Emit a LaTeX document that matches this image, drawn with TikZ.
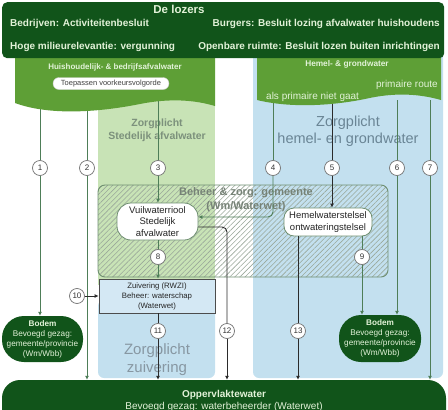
\documentclass[tikz,border=0pt]{standalone}
\usepackage{fontspec}
\setmainfont{Liberation Sans}
\usetikzlibrary{arrows.meta,patterns.meta,calc}
\definecolor{dkgreen}{HTML}{11541A}
\definecolor{midgreen}{HTML}{5E9F36}
\definecolor{ltgreen}{HTML}{C8E3B6}
\definecolor{ltblue}{HTML}{C3E0EF}
\definecolor{boxblue}{HTML}{D4E8F4}
\definecolor{paletext}{HTML}{E2F2D8}
\definecolor{glinec}{HTML}{4E7E58}
\definecolor{dlinec}{HTML}{2B2B2B}
\definecolor{zgreen}{HTML}{7C917C}
\definecolor{zblue}{HTML}{6A8595}
\definecolor{zgray}{HTML}{8797A2}
\definecolor{hatchc}{HTML}{9AA89A}
\definecolor{hatchborder}{HTML}{6E8E70}
\definecolor{beheerc}{HTML}{768276}
\begin{document}
\begin{tikzpicture}[x=1pt,y=-1pt,
  num/.style={circle,draw=black!55,fill=white,line width=0.7pt,minimum size=15pt,inner sep=0pt,font=\fontsize{8}{8}\selectfont,text=black!80},
  gline/.style={draw=glinec,line width=0.9pt},
  dline/.style={draw=dlinec,line width=0.9pt},
  arr/.style={-{Latex[length=4pt,width=4pt]}},
  darkbox/.style={fill=dkgreen,text=paletext,align=center,inner sep=2pt,font=\fontsize{8.2}{10}\selectfont},
  whitebox/.style={fill=white,draw=hatchborder,line width=0.8pt,align=center,inner sep=1pt,font=\fontsize{9.5}{11.5}\selectfont,text=black!85},
  toptext/.style={text=paletext,font=\bfseries\fontsize{10}{12}\selectfont,inner sep=0pt},
  lightlabel/.style={text=paletext,inner sep=0pt}
]
\useasboundingbox (0,0) rectangle (448,410);
\clip (0,0) rectangle (448,410);

% background regions
\fill[ltblue,rounded corners=6pt] (253,45) rectangle (443,378);
\fill[ltgreen] (98,95) rectangle (215,285);
\fill[ltblue,rounded corners=6pt] (98,300) rectangle (215,378);

% zorgplicht texts
\node[font=\bfseries\fontsize{10.5}{13}\selectfont,text=zgreen,align=center] (zp1) at (157,130) {Zorgplicht\\Stedelijk afvalwater};
\node[font=\fontsize{14.5}{17}\selectfont,text=zblue,align=center] (zp2) at (348,131) {Zorgplicht\\hemel- en grondwater};
\node[font=\fontsize{15}{18}\selectfont,text=zgray,align=center] (zp3) at (157,360) {Zorgplicht\\zuivering};

% hatched management box
\path[pattern={Lines[angle=45,distance=3.6pt,line width=0.6pt]},pattern color=hatchc] (98,185) [rounded corners=7pt] rectangle (388,277);
\draw[hatchborder,line width=0.9pt,rounded corners=7pt] (98,185) rectangle (388,277);
\node[font=\bfseries\fontsize{11}{14}\selectfont,text=beheerc,align=center] (beheer) at (246,200) {Beheer \& zorg: gemeente\\(Wm/Waterwet)};

% process nodes
\node[whitebox,rounded corners=14pt,minimum width=81pt,minimum height=37pt] (vuil) at (157.5,221.5) {Vuilwaterriool\\Stedelijk\\afvalwater};
\node[whitebox,rounded corners=10pt,minimum width=88pt,minimum height=28pt] (hemel) at (328,222) {Hemelwaterstelsel\\ontwateringstelsel};
\node[fill=boxblue,draw=black!70,line width=0.8pt,align=center,minimum width=116pt,minimum height=34pt,inner sep=1pt,font=\fontsize{7.8}{10}\selectfont,text=black!85] (zuiv) at (157,296) {Zuivering (RWZI)\\Beheer: waterschap\\(Waterwet)};
\node[darkbox,rounded corners=22pt,minimum width=81pt,minimum height=46pt] (bodemL) at (42.5,339) {\textbf{Bodem}\\Bevoegd gezag:\\gemeente/provincie\\(Wm/Wbb)};
\node[darkbox,rounded corners=22pt,minimum width=82pt,minimum height=47pt] (bodemR) at (380,338.5) {\textbf{Bodem}\\Bevoegd gezag:\\gemeente/provincie\\(Wm/Wbb)};
\node[fill=dkgreen,rounded corners=18pt,minimum width=444pt,minimum height=62pt,inner sep=0pt] (opp) at (224,411) {};
\node[text=paletext,align=center,font=\fontsize{10}{11.5}\selectfont] (opptext) at (224,401) {\textbf{Oppervlaktewater}\\Bevoegd gezag: waterbeheerder (Waterwet)};

% numbered circles
\node[num] (c1) at (40,168) {1};
\node[num] (c2) at (87,168) {2};
\node[num] (c3) at (158,168) {3};
\node[num] (c4) at (273,168) {4};
\node[num] (c5) at (332,168) {5};
\node[num] (c6) at (397,168) {6};
\node[num] (c7) at (430,168) {7};
\node[num] (c8) at (158,257) {8};
\node[num] (c9) at (362,257) {9};
\node[num] (c10) at (77,296) {10};
\node[num] (c11) at (158,331) {11};
\node[num] (c12) at (227,331) {12};
\node[num] (c13) at (298,331) {13};

% start points below the lozer shapes
\coordinate (s1) at (40,100);
\coordinate (s2) at (87,100);
\coordinate (s3) at (158,100);
\coordinate (s4) at (273,100);
\coordinate (s5) at (332,100);
\coordinate (s6) at (397,100);
\coordinate (s7) at (430,100);

% connectors
\draw[gline] (s1) -- (c1);
\draw[gline,arr] (c1) -- (c1 |- bodemL.north);
\draw[gline] (s2) -- (c2);
\draw[gline,arr] (c2) -- (c2 |- opp.north);
\draw[gline] (s3) -- (c3);
\draw[gline,arr] (c3) -- (c3 |- vuil.north);
\draw[gline] (s4) -- (c4);
\draw[gline,arr,rounded corners=5pt] (c4) |- ($(vuil.east)+(0,-4.5)$);
\draw[dline] (s5) -- (c5);
\draw[dline,arr] (c5) -- (c5 |- hemel.north);
\draw[gline] (s6) -- (c6);
\draw[gline,arr] (c6) -- (c6 |- bodemR.north);
\draw[gline] (s7) -- (c7);
\draw[gline,arr] (c7) -- (c7 |- opp.north);
\draw[gline] (vuil.south -| c8) -- (c8);
\draw[gline,arr] (c8) -- (c8 |- zuiv.north);
\draw[gline] (hemel.south -| c9) -- (c9);
\draw[gline,arr] (c9) -- (c9 |- bodemR.north);
\draw[dline,arr] (c10) -- (zuiv.west);
\draw[dline] (zuiv.south -| c11) -- (c11);
\draw[dline,arr] (c11) -- (c11 |- opp.north);
\draw[dline,rounded corners=5pt] ($(vuil.east)+(0,5.5)$) -| (c12);
\draw[dline,arr] (c12) -- (c12 |- opp.north);
\draw[dline] (hemel.south -| c13) -- (c13);
\draw[dline,arr] (c13) -- (c13 |- opp.north);

% lozer shapes
\fill[midgreen] (15,40) -- (215,40) -- (215,106) .. controls (195,100) and (170,98) .. (140,104) .. controls (100,112) and (50,116) .. (15,103) -- cycle;
\fill[midgreen] (257,40) -- (441,40) -- (441,100) .. controls (420,94) and (395,92) .. (365,99) .. controls (330,106) and (290,108) .. (257,100) -- cycle;
\node[lightlabel,font=\bfseries\fontsize{8}{9}\selectfont] (huish) at (115,67) {Huishoudelijk- \& bedrijfsafvalwater};
\node[fill=white,draw=black!20,rounded corners=6pt,font=\fontsize{7.5}{8}\selectfont,text=black!75,minimum width=116pt,minimum height=12pt,inner sep=1pt] (toep) at (111,83.5) {Toepassen voorkeursvolgorde};
\node[lightlabel,font=\bfseries\fontsize{8.3}{9}\selectfont] (hemelgw) at (347,64) {Hemel- \& grondwater};
\node[lightlabel,font=\fontsize{10}{11}\selectfont,anchor=east] (prim) at (438,85) {primaire route};
\node[lightlabel,font=\fontsize{10}{11}\selectfont,anchor=west] (alsprim) at (266,97) {als primaire niet gaat};

% top box
\node[fill=dkgreen,rounded corners=5pt,minimum width=442pt,minimum height=56pt,inner sep=0pt,anchor=north west] (lozers) at (2,2) {};
\node[toptext,font=\bfseries\fontsize{11.5}{12}\selectfont] (lozt) at (179,9) {De lozers};
\node[toptext,anchor=west] (bedr) at (10,24) {Bedrijven: Activiteitenbesluit};
\node[toptext,anchor=west] (hoge) at (10,47) {Hoge milieurelevantie: vergunning};
\node[toptext,anchor=east] (burg) at (440,24) {Burgers: Besluit lozing afvalwater huishoudens};
\node[toptext,anchor=east] (openb) at (440,47) {Openbare ruimte: Besluit lozen buiten inrichtingen};
\end{tikzpicture}
\end{document}
